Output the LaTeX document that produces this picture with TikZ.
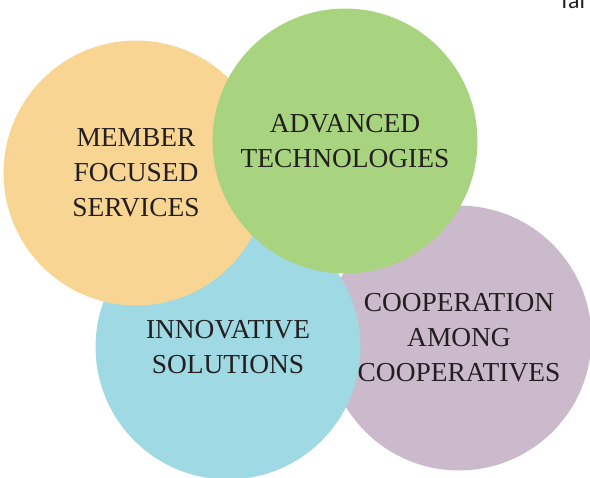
\documentclass[tikz,border=0pt]{standalone}
\usepackage{fontspec}
\setmainfont{Liberation Serif}
\newfontfamily\sidefont{Carlito}
\usetikzlibrary{positioning}

\definecolor{memberfill}{HTML}{F9D594}
\definecolor{techfill}{HTML}{A9D47F}
\definecolor{innovfill}{HTML}{9FD9E3}
\definecolor{coopfill}{HTML}{CBBACB}
\definecolor{inkgray}{HTML}{231F20}

\begin{document}
\begin{tikzpicture}[
    x=0.025cm, y=-0.025cm,
    bubble/.style={circle, draw=none, align=center, minimum size=6.62cm, inner sep=0pt, text=inkgray,
      font=\fontsize{19.5}{24.9}\selectfont},
  ]
    \useasboundingbox (0,0) rectangle (590,478);

    \node[bubble, fill=coopfill] (coop) at (459,338) {COOPERATION\\AMONG\\COOPERATIVES};
    \node[bubble, fill=innovfill] (innov) at (228,347) {INNOVATIVE\\SOLUTIONS};
    \node[bubble, fill=memberfill] (member) at (136,173) {MEMBER\\FOCUSED\\SERVICES};
    \node[bubble, fill=techfill] (tech) at (345,141) {ADVANCED\\TECHNOLOGIES};

    % cut-off text at the top edge
    \begin{scope}
      \clip (0,0) rectangle (590,478);
      \node[anchor=base west, inner sep=0pt, text=inkgray, font=\sidefont\fontsize{17}{20}\selectfont] (side) at (561,9) {fai};
    \end{scope}
  \end{tikzpicture}
\end{document}
